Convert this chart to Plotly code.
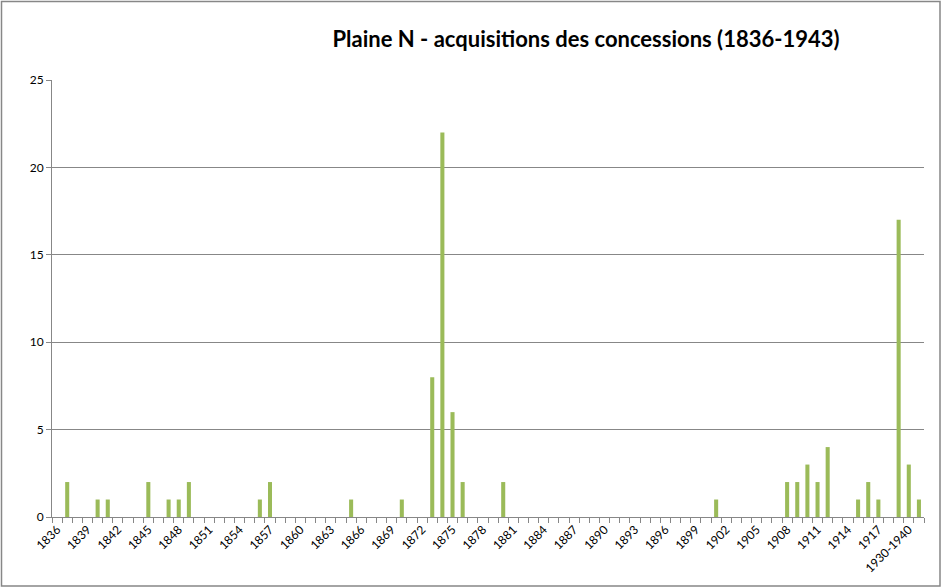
import plotly.graph_objects as go

# categories on the x axis (one per year, then grouped periods at the end)
years = [str(y) for y in range(1836, 1918)]
periods = ["1918", "1919-1929", "1930-1940", "1941-1943"]
categories = years + periods

# number of concessions acquired, only the non-zero ones
nonzero = {
    "1837": 2, "1840": 1, "1841": 1, "1845": 2, "1847": 1, "1848": 1,
    "1849": 2, "1856": 1, "1857": 2, "1865": 1, "1870": 1, "1873": 8,
    "1874": 22, "1875": 6, "1876": 2, "1880": 2, "1901": 1, "1908": 2,
    "1909": 2, "1910": 3, "1911": 2, "1912": 4, "1915": 1, "1916": 2,
    "1917": 1, "1919-1929": 17, "1930-1940": 3, "1941-1943": 1,
}
values = [nonzero.get(c, 0) for c in categories]

# only every third label is shown
ticklabels = [c if i % 3 == 0 else "" for i, c in enumerate(categories)]

W, H = 942, 588
ML, MR, MT, MB = 52, 18, 80, 71

fig = go.Figure()
fig.add_trace(go.Bar(x=categories, y=values, marker_color="#9BBB59",
                     marker_line_width=0, showlegend=False))

fig.update_layout(
    width=W, height=H,
    margin=dict(l=ML, r=MR, t=MT, b=MB),
    paper_bgcolor="white", plot_bgcolor="white",
    bargap=0.6,
    font=dict(family="Lato, Liberation Sans, sans-serif", size=12, color="black"),
    title=dict(text="<b>Plaine N - acquisitions des concessions (1836-1943)</b>",
               font=dict(size=22, color="black"),
               x=(586 - ML) / (W - ML - MR), xref="paper", xanchor="center",
               y=1 - 39 / H, yanchor="middle"),
)
fig.update_xaxes(
    type="category", categoryorder="array", categoryarray=categories,
    tickmode="array", tickvals=categories, ticktext=ticklabels,
    tickson="boundaries", ticks="outside", ticklen=5, tickcolor="#878787",
    tickangle=-45, showline=True, linecolor="#878787", linewidth=1,
    showgrid=False, tickfont=dict(size=12), automargin=False,
)
fig.update_yaxes(
    range=[0, 25], dtick=5, ticks="outside", ticklen=5, tickcolor="#878787",
    showline=True, linecolor="#878787", showgrid=True, gridcolor="#878787",
    gridwidth=1, zeroline=False, tickfont=dict(size=12), automargin=False,
)

# chart border around the whole picture
pw, ph = W - ML - MR, H - MT - MB
fig.add_shape(type="rect", xref="paper", yref="paper",
              x0=-(ML - 1.5) / pw, x1=1 + (MR - 2) / pw,
              y0=-(MB - 2) / ph, y1=1 + (MT - 1.5) / ph,
              line=dict(color="#878787", width=1.5), fillcolor="rgba(0,0,0,0)")

# drop the page's default body margin so the chart sits at the window corner
fig.write_html("out.html", config={"displayModeBar": False},
               post_script="document.body.style.margin='0';")
